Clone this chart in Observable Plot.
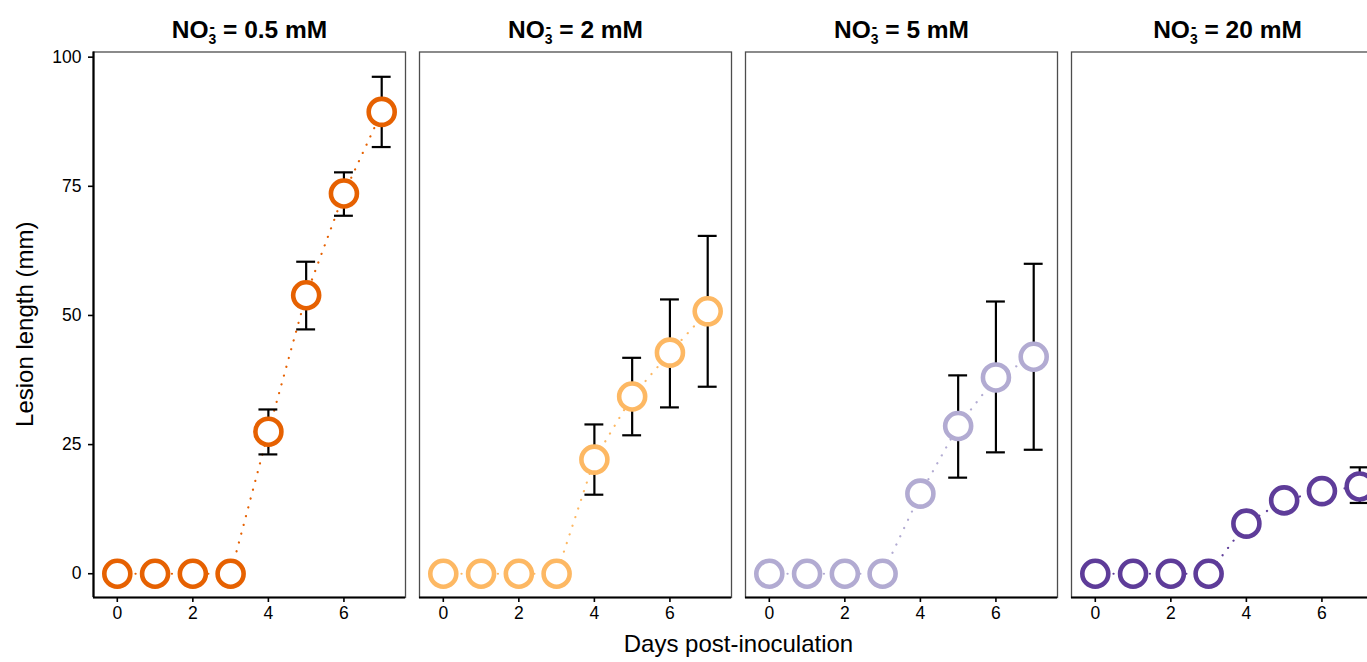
<!DOCTYPE html>
<html><head><meta charset="utf-8">
<script src="https://cdn.jsdelivr.net/npm/d3@7"></script>
<script src="https://cdn.jsdelivr.net/npm/@observablehq/plot@0.6"></script>
<style>
html,body{margin:0;padding:0;background:#fff;overflow:hidden;width:1367px;}
#chart{width:1395px;}
#chart svg{display:block;max-width:none !important;width:1395px;height:662px;}
#chart svg g[aria-label="x-axis tick label"] text,
#chart svg g[aria-label="y-axis tick label"] text{font-size:17.5px !important;fill:#000;}
</style></head><body><div id="chart"></div>
<script>
// ---- data ----
const days = [0, 1, 2, 3, 4, 5, 6, 7];
const concentrations = ["0.5", "2", "5", "20"];
const colors = ["#E66101", "#FDB863", "#B2ABD2", "#5E3C99"];

const mean05 = [0, 0, 0, 0, 27.5, 53.9, 73.6, 89.4];
const lower05 = [0, 0, 0, 0, 23.1, 47.3, 69.3, 82.6];
const upper05 = [0, 0, 0, 0, 31.8, 60.4, 77.7, 96.2];

const mean2 = [0, 0, 0, 0, 22.1, 34.3, 42.8, 50.8];
const lower2 = [0, 0, 0, 0, 15.3, 26.8, 32.2, 36.2];
const upper2 = [0, 0, 0, 0, 28.9, 41.8, 53.1, 65.4];

const mean5 = [0, 0, 0, 0, 15.5, 28.6, 38.0, 42.0];
const lower5 = [0, 0, 0, 0, 14.2, 18.6, 23.5, 24.0];
const upper5 = [0, 0, 0, 0, 16.8, 38.4, 52.7, 60.0];

const mean20 = [0, 0, 0, 0, 9.7, 14.2, 16.0, 16.9];
const lower20 = [0, 0, 0, 0, 8.6, 13.0, 14.7, 13.7];
const upper20 = [0, 0, 0, 0, 10.8, 15.4, 17.3, 20.6];

const yTicks = [0, 25, 50, 75, 100];
const xTicks = [0, 2, 4, 6];
const errorBarWidth = 0.5; // in days, like ggplot's width

const series = [
  {conc: "0.5", mean: mean05, lower: lower05, upper: upper05},
  {conc: "2", mean: mean2, lower: lower2, upper: upper2},
  {conc: "5", mean: mean5, lower: lower5, upper: upper5},
  {conc: "20", mean: mean20, lower: lower20, upper: upper20}
];
const rows = series.flatMap(s => days.map((day, i) => ({
  conc: s.conc, day, mean: s.mean[i], lo: s.lower[i], hi: s.upper[i]
})));
const errRows = rows.filter(d => d.hi > d.lo);

// ---- layout ----
const W = 1395, H = 662;
const ML = 91.5, MR = 9.5, MT = 51.5, MB = 65;
const xDomain = [-0.63, 7.63];
const yDomain = [-4.6, 101];
const half = errorBarWidth / 2;

const plot = Plot.plot({
  width: W, height: H,
  marginLeft: ML, marginRight: MR, marginTop: MT, marginBottom: MB,
  style: {fontFamily: "'Liberation Sans', Arial, sans-serif", fontSize: "16.5px", color: "#000", background: "#fff", maxWidth: "none"},
  fx: {domain: concentrations, paddingInner: 0.0428, paddingOuter: 0},
  x: {domain: xDomain},
  y: {domain: yDomain},
  color: {domain: concentrations, range: colors},
  marks: [
    Plot.frame({stroke: "#4d4d4d", strokeWidth: 1.3}),
    Plot.axisFx({anchor: "top", label: null, tickSize: 0, tickPadding: 14, fontSize: 24.5, fontWeight: "bold",
      tickFormat: d => `NO₃⁻ = ${d} mM`}),
    Plot.axisX({ticks: xTicks, tickSize: 5, tickPadding: 4, fontSize: 17.5, strokeWidth: 1.6, label: null}),
    Plot.axisY({ticks: yTicks, tickSize: 5, tickPadding: 7, fontSize: 17.5, strokeWidth: 1.6, label: null}),
    Plot.ruleY([yDomain[0]], {stroke: "#000", strokeWidth: 2.2}),
    Plot.ruleX([concentrations[0]], {fx: d => d, x: xDomain[0], stroke: "#000", strokeWidth: 2.2}),
    Plot.line(rows, {fx: "conc", x: "day", y: "mean", z: "conc", stroke: "conc",
      strokeWidth: 2.2, strokeDasharray: "0.1,9", strokeLinecap: "round"}),
    Plot.ruleX(errRows, {fx: "conc", x: "day", y1: "lo", y2: "hi", stroke: "#000", strokeWidth: 2.2}),
    Plot.ruleY(errRows, {fx: "conc", y: "lo", x1: d => d.day - half, x2: d => d.day + half, stroke: "#000", strokeWidth: 2.2}),
    Plot.ruleY(errRows, {fx: "conc", y: "hi", x1: d => d.day - half, x2: d => d.day + half, stroke: "#000", strokeWidth: 2.2}),
    Plot.dot(rows, {fx: "conc", x: "day", y: "mean", r: 13, stroke: "conc", fill: "#fff", strokeWidth: 4.6})
  ]
});
document.getElementById("chart").appendChild(plot);

const svg = d3.select(plot);
// facet titles: NO3- with stacked sub/superscript
svg.selectAll('g[aria-label="fx-axis tick label"] text').each(function() {
  const t = d3.select(this);
  const m = /=\s*(.+?)\s*mM/.exec(this.textContent);
  if (!m) return;
  t.text(null);
  t.append("tspan").text("NO");
  t.append("tspan").attr("font-size", 14).attr("dy", 6).text("3");
  t.append("tspan").attr("font-size", 16).attr("dx", -6.8).attr("dy", -12).text("-");
  t.append("tspan").attr("dx", 1.4).attr("dy", 6).text(` = ${m[1]} mM`);
});
// axis titles
svg.append("text")
  .attr("x", ML + (W - ML - MR) / 2).attr("y", H - 10)
  .attr("text-anchor", "middle").attr("font-size", 24).attr("fill", "#000")
  .text("Days post-inoculation");
svg.append("text")
  .attr("transform", `translate(33.3,${MT + (H - MT - MB) / 2}) rotate(-90)`)
  .attr("text-anchor", "middle").attr("font-size", 24).attr("fill", "#000")
  .text("Lesion length (mm)");
</script></body></html>
